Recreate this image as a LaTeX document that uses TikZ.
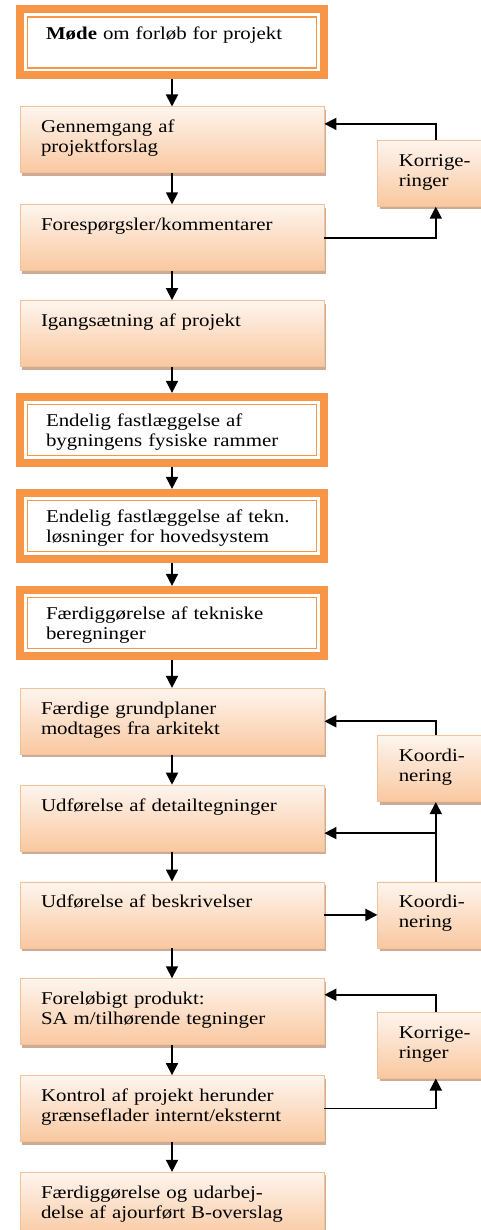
\documentclass[tikz,border=0pt]{standalone}
\usepackage{fontspec}
\setmainfont{Liberation Serif}[FakeStretch=1.16]
\usepackage{tikz}
\usetikzlibrary{arrows.meta,positioning,shadows}
\definecolor{peachtop}{HTML}{FEF5EE}
\definecolor{peachbot}{HTML}{F9C8A0}
\definecolor{peachline}{HTML}{F2C29C}
\definecolor{peachshadow}{HTML}{C8A288}
\definecolor{frameorange}{HTML}{F79646}

\begin{document}
\begin{tikzpicture}[
      font=\fontsize{18pt}{20pt}\selectfont,
      node distance=30pt,
      box/.style={draw=peachline, line width=0.8pt, top color=peachtop, bottom color=peachbot,
        drop shadow={shadow xshift=2pt, shadow yshift=-3pt, fill=peachshadow, opacity=0.9},
        align=left, text width=262pt, inner xsep=21pt, inner ysep=12pt, text height=14pt, text depth=28pt},
      side/.style={box, text width=74pt},
      framebox/.style={draw=frameorange, line width=8pt, fill=white, outer sep=4pt,
        align=left, text width=252pt, inner xsep=26pt, inner ysep=16pt, text height=14pt, text depth=20pt,
        path picture={\draw[frameorange, line width=1.6pt]
          ([shift={(7.5pt,-7.5pt)}]path picture bounding box.north west) rectangle
          ([shift={(-7.5pt,7.5pt)}]path picture bounding box.south east);}},
      arrow/.style={-{Triangle[length=12pt,width=12pt]}, line width=1.7pt}
    ]
    \useasboundingbox (0,0) rectangle (481pt,-1230pt);
    \clip (0,0) rectangle (481pt,-1230pt);

    % main column
    \node[framebox] (mode) at (172pt,-42.5pt) {\textbf{Møde} om forløb for projekt};
    \node[box, below=27pt of mode] (gennem) {Gennemgang af\\projektforslag};
    \node[box, below=31pt of gennem] (foresp) {Forespørgsler/kommentarer};
    \node[box, below=29pt of foresp] (igang) {Igangsætning af projekt};
    \node[framebox, below=26pt of igang] (rammer) {Endelig fastlæggelse af\\bygningens fysiske rammer};
    \node[framebox, below=22pt of rammer] (hoved) {Endelig fastlæggelse af tekn.\\løsninger for hovedsystem};
    \node[framebox, below=23pt of hoved] (beregn) {Færdiggørelse af tekniske\\beregninger};
    \node[box, below=28pt of beregn] (grund) {Færdige grundplaner\\modtages fra arkitekt};
    \node[box, below=of grund] (detail) {Udførelse af detailtegninger};
    \node[box, below=of detail] (beskr) {Udførelse af beskrivelser};
    \node[box, below=of beskr] (prod) {Foreløbigt produkt:\\SA m/tilhørende tegninger};
    \node[box, below=of prod] (kontrol) {Kontrol af projekt herunder\\grænseflader internt/eksternt};
    \node[box, below=of kontrol] (ajour) {Færdiggørelse og udarbej-\\delse af ajourført B-overslag};

    % side boxes
    \node[side, anchor=north west] (korr1) at ([xshift=53pt]gennem.east) {Korrige-\\ringer};
    \node[side, anchor=north west] (koord1) at ([xshift=53pt,yshift=-14pt]grund.east) {Koordi-\\nering};
    \node[side, right=53pt of beskr] (koord2) {Koordi-\\nering};
    \node[side, anchor=north west] (korr2) at ([xshift=53pt]prod.east) {Korrige-\\ringer};

    \draw[arrow] (mode) -- (gennem);
    \draw[arrow] (gennem) -- (foresp);
    \draw[arrow] (foresp) -- (igang);
    \draw[arrow] (igang) -- (rammer);
    \draw[arrow] (rammer) -- (hoved);
    \draw[arrow] (hoved) -- (beregn);
    \draw[arrow] (beregn) -- (grund);
    \draw[arrow] (grund) -- (detail);
    \draw[arrow] (detail) -- (beskr);
    \draw[arrow] (beskr) -- (prod);
    \draw[arrow] (prod) -- (kontrol);
    \draw[arrow] (kontrol) -- (ajour);

    % feedback loops
    \draw[arrow] (korr1.north) |- ([yshift=16pt]gennem.east);
    \draw[arrow] (foresp.east) -| (korr1.south);
    \draw[arrow] (koord1.north) |- (grund.east);
    \draw[arrow] (koord2) -- (koord1);
    \draw[arrow] (koord2.north) |- ([yshift=-15pt]detail.east);
    \draw[arrow] (beskr) -- (koord2);
    \draw[arrow] (korr2.north) |- ([yshift=17pt]prod.east);
    \draw[arrow] (kontrol.east) -| (korr2.south);
  \end{tikzpicture}
\end{document}
